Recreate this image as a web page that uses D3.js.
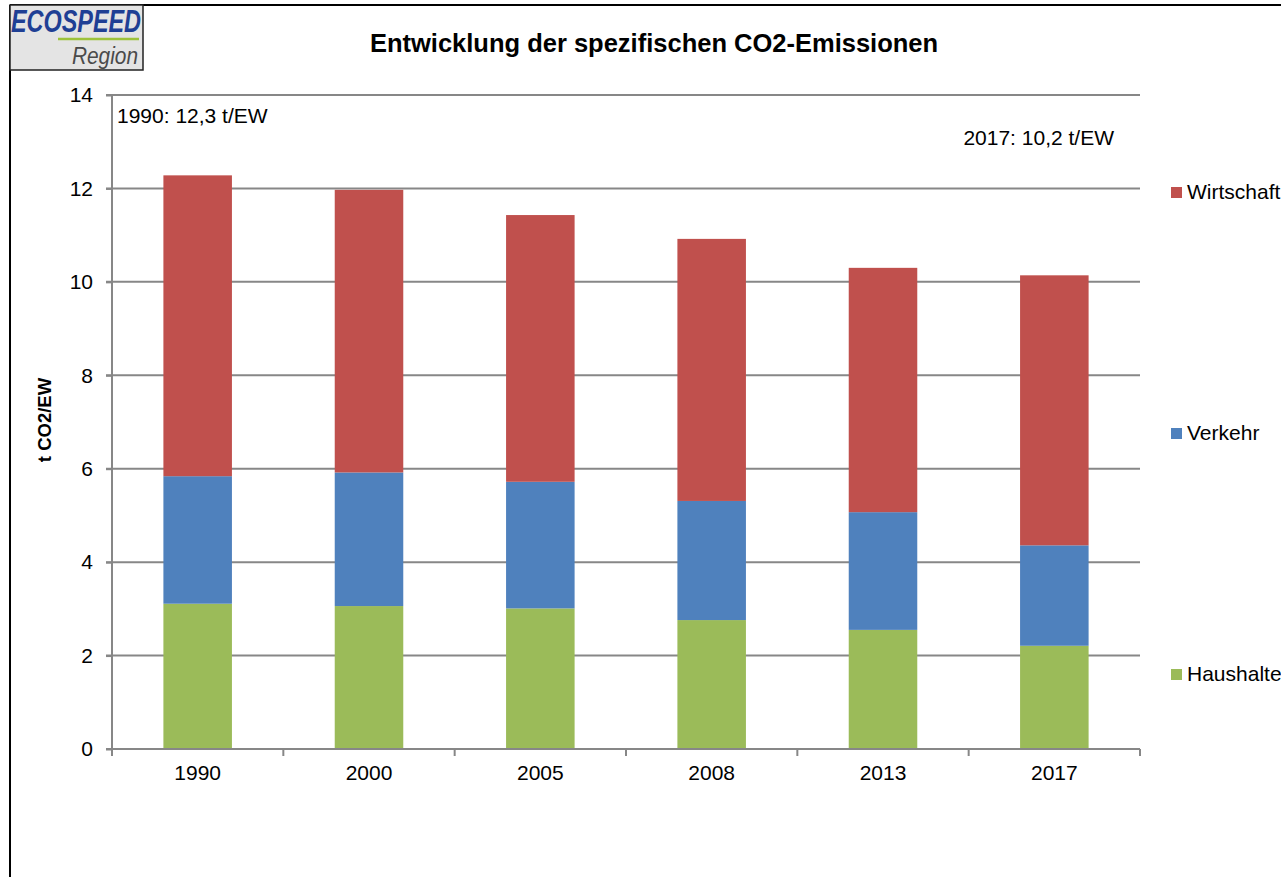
<!DOCTYPE html>
<html><head><meta charset="utf-8">
<script src="https://cdn.jsdelivr.net/npm/d3@7"></script>
<style>
html,body{margin:0;padding:0;background:#fff;overflow:hidden;}
svg{display:block;font-family:"Liberation Sans",Arial,sans-serif;}
</style></head><body>
<svg id="chart" width="1281" height="877"></svg>
<script>
const categories = ["1990","2000","2005","2008","2013","2017"];
const haushalte = [3.11, 3.06, 3.01, 2.76, 2.55, 2.21];
const verkehr = [2.73, 2.86, 2.71, 2.55, 2.52, 2.15];
const wirtschaft = [6.44, 6.05, 5.71, 5.61, 5.23, 5.78];
const seriesNames = ["Haushalte","Verkehr","Wirtschaft"];
const seriesColors = ["#9bbb59","#4f81bd","#c0504d"];
const yTicks = [0,2,4,6,8,10,12,14];
const title = "Entwicklung der spezifischen CO2-Emissionen";
const yLabel = "t CO2/EW";
const note1990 = "1990: 12,3 t/EW";
const note2017 = "2017: 10,2 t/EW";

const svg = d3.select("#chart");
const plotLeft = 112, plotRight = 1140, plotTop = 95, plotBottom = 749;
const FS = 21;

// outer frame
svg.append("line").attr("x1",10).attr("x2",1281).attr("y1",5).attr("y2",5).attr("stroke","#000").attr("stroke-width",2);
svg.append("line").attr("x1",10).attr("x2",10).attr("y1",5).attr("y2",877).attr("stroke","#000").attr("stroke-width",2);

// logo
const logo = svg.append("g");
logo.append("rect").attr("x",10).attr("y",5).attr("width",133).attr("height",65).attr("fill","#e4e4e4").attr("stroke","#222").attr("stroke-width",1.5);
logo.append("text").attr("x",11).attr("y",32).attr("font-family","'Liberation Sans Narrow','Liberation Sans',Arial").attr("font-style","italic").attr("font-weight","bold").attr("font-size",32).attr("fill","#1f3f94").attr("textLength",130).attr("lengthAdjust","spacingAndGlyphs").text("ECOSPEED");
logo.append("line").attr("x1",58).attr("x2",139).attr("y1",39).attr("y2",39).attr("stroke","#9dc23b").attr("stroke-width",2.5);
logo.append("text").attr("x",138).attr("y",64).attr("text-anchor","end").attr("font-family","'Liberation Sans Narrow','Liberation Sans',Arial").attr("font-style","italic").attr("font-size",24).attr("fill","#4a4a4a").attr("textLength",66).attr("lengthAdjust","spacingAndGlyphs").text("Region");

// title
svg.append("text").attr("x",654).attr("y",52).attr("text-anchor","middle").attr("font-weight","bold").attr("font-size",25.5).attr("fill","#000").text(title);

const x = d3.scaleBand().domain(categories).range([plotLeft,plotRight]).paddingInner(0.6).paddingOuter(0.3);
const y = d3.scaleLinear().domain([0,14]).range([plotBottom,plotTop]);

// gridlines
svg.append("g").selectAll("line").data(yTicks.filter(d=>d>0)).join("line")
  .attr("x1",plotLeft-6).attr("x2",plotRight).attr("y1",d=>y(d)).attr("y2",d=>y(d))
  .attr("stroke","#878787").attr("stroke-width",2);

// stacked data
const rows = categories.map((c,i)=>({cat:c, Haushalte:haushalte[i], Verkehr:verkehr[i], Wirtschaft:wirtschaft[i]}));
const stack = d3.stack().keys(seriesNames)(rows);
svg.append("g").selectAll("g").data(stack).join("g")
  .attr("fill",(d,i)=>seriesColors[i])
  .selectAll("rect").data(d=>d).join("rect")
  .attr("x",d=>x(d.data.cat)).attr("width",x.bandwidth())
  .attr("y",d=>y(d[1])).attr("height",d=>y(d[0])-y(d[1]));

// y axis
const yAxis = svg.append("g").attr("transform",`translate(${plotLeft},0)`)
  .call(d3.axisLeft(y).tickValues(yTicks).tickSize(6).tickPadding(13).tickFormat(d3.format("d")));
yAxis.attr("font-size",FS).attr("font-family","'Liberation Sans',Arial");
yAxis.select(".domain").attr("stroke","#878787").attr("stroke-width",2).attr("d",`M0,${plotTop}V${plotBottom}`);
yAxis.selectAll(".tick line").attr("stroke","#878787").attr("stroke-width",2);
yAxis.selectAll(".tick text").attr("fill","#000");

// x axis
const xAxis = svg.append("g").attr("transform",`translate(0,${plotBottom})`)
  .call(d3.axisBottom(x).tickSize(0).tickPadding(16));
xAxis.attr("font-size",FS).attr("font-family","'Liberation Sans',Arial");
xAxis.select(".domain").attr("stroke","#878787").attr("stroke-width",2).attr("d",`M${plotLeft-6},0H${plotRight}`);
xAxis.selectAll(".tick text").attr("fill","#000");
const boundaries = [x.range()[0]].concat(categories.map(c=>x(c)+x.bandwidth()+x.step()*x.paddingInner()/2));
xAxis.selectAll(".bnd").data(boundaries).join("line").attr("class","bnd")
  .attr("x1",d=>d).attr("x2",d=>d).attr("y1",0).attr("y2",7).attr("stroke","#878787").attr("stroke-width",2);

// y label
svg.append("text").attr("transform",`translate(51,420) rotate(-90)`).attr("text-anchor","middle")
  .attr("font-weight","bold").attr("font-size",18.5).attr("fill","#000").text(yLabel);

// annotations
svg.append("text").attr("x",117).attr("y",123).attr("font-size",FS).attr("fill","#000").text(note1990);
svg.append("text").attr("x",1114).attr("y",145).attr("text-anchor","end").attr("font-size",FS).attr("fill","#000").text(note2017);

// legend
const legendY = {"Wirtschaft":192.5, "Verkehr":433.5, "Haushalte":674.5};
const lg = svg.append("g").selectAll("g").data(seriesNames).join("g")
  .attr("transform",d=>`translate(1171,${legendY[d]})`);
lg.append("rect").attr("x",0).attr("y",-5.5).attr("width",11).attr("height",11).attr("fill",(d,i)=>seriesColors[i]);
lg.append("text").attr("x",16).attr("y",6.5).attr("font-size",FS).attr("fill","#000").text(d=>d);
</script>
</body></html>
